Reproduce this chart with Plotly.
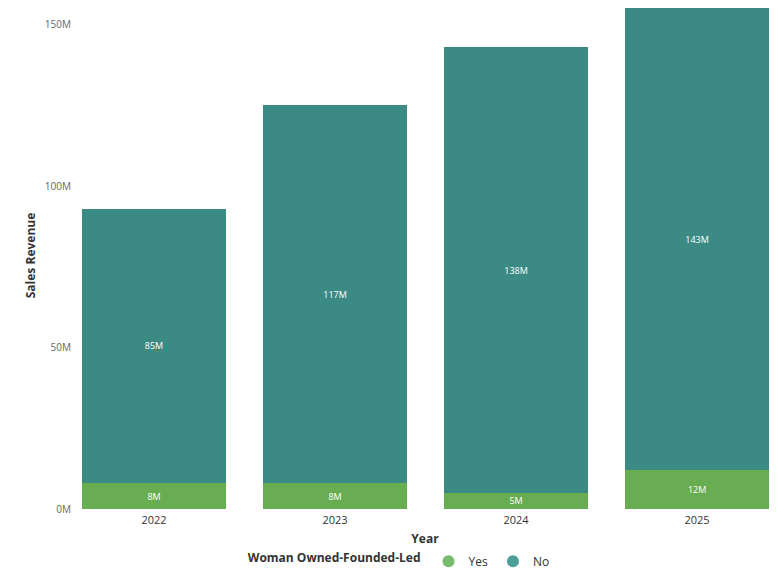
import plotly.graph_objects as go

years = ["2022", "2023", "2024", "2025"]
yes_m = [8, 8, 5, 12]
no_m = [85, 117, 138, 143]
series_names = ["Yes", "No"]
tick_vals = [0, 50, 100, 150]
tick_text = ["0M", "50M", "100M", "150M"]

green = "#69ad52"
teal = "#3b8b84"
green_leg = "#77bb6c"
teal_leg = "#4c9f98"

fig = go.Figure()
for name, vals, col in [(series_names[0], yes_m, green), (series_names[1], no_m, teal)]:
    fig.add_trace(go.Bar(
        x=years, y=vals, name=name, marker=dict(color=col, line=dict(width=0)),
        text=[f"{v}M" for v in vals], textposition="inside", insidetextanchor="middle",
        textfont=dict(color="white", size=9, family="Open Sans"),
        constraintext="none",
        showlegend=False, hoverinfo="x+y",
    ))

for name, col in [(series_names[0], green_leg), (series_names[1], teal_leg)]:
    fig.add_trace(go.Scatter(
        x=[None], y=[None], mode="markers", name=name,
        marker=dict(color=col, size=10, symbol="circle"), showlegend=True,
    ))

fig.update_layout(
    barmode="stack",
    bargap=0.2,
    width=778, height=572,
    margin=dict(l=72, r=0, t=2, b=63, autoexpand=False),
    uniformtext=dict(minsize=9, mode="show"),
    plot_bgcolor="white", paper_bgcolor="white",
    font=dict(family="Open Sans", color="#333333"),
    xaxis=dict(
        type="category", range=[-0.453, 3.447], showgrid=False, showline=False,
        ticks="outside", ticklen=1, tickcolor="rgba(0,0,0,0)",
        tickfont=dict(size=11, color="#333333"), automargin=False,
        title=dict(text="Year", font=dict(size=12, color="#333333", family="Open Sans", weight="bold"), standoff=8),
    ),
    yaxis=dict(
        range=[0, 157], tickvals=tick_vals, ticktext=tick_text, showgrid=False,
        zeroline=False, showline=False, ticks="", automargin=False,
        tickfont=dict(size=10, color="#666666"),
        title=dict(text="Sales Revenue", font=dict(size=12, color="#333333", family="Open Sans", weight="bold"), standoff=6),
    ),
    legend=dict(
        orientation="h", x=0.465, xanchor="center", y=-0.103, yanchor="middle",
        traceorder="normal", valign="middle",
        title=dict(text="Woman Owned-Founded-Led", side="left",
                   font=dict(size=12, color="#333333", family="Open Sans", weight="bold")),
        font=dict(size=12, color="#333333"), itemsizing="constant", itemwidth=30,
        tracegroupgap=0,
    ),
)

fig.write_html("out.html", config={"displayModeBar": False},
               post_script="document.body.style.margin='0';document.body.style.overflow='hidden';")
